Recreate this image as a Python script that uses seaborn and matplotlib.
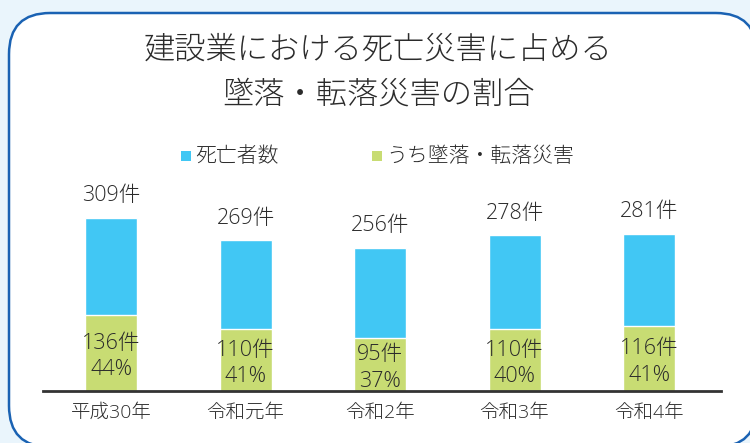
import matplotlib
matplotlib.use("Agg")
import matplotlib.pyplot as plt
from matplotlib.patches import FancyBboxPatch, Rectangle
import seaborn as sns
import pandas as pd

years = ["平成30年", "令和元年", "令和2年", "令和3年", "令和4年"]
deaths = [309, 269, 256, 278, 281]
falls = [136, 110, 95, 110, 116]
shares = [44, 41, 37, 40, 41]

title_lines = ["建設業における死亡災害に占める", "墜落・転落災害の割合"]
legend_labels = ["死亡者数", "うち墜落・転落災害"]

BLUE = "#41C7F4"
GREEN = "#C8DC73"
TXT = "#2b2b2b"

sns.set_theme(style="white")
plt.rcParams["font.family"] = ["Noto Sans CJK JP", "DejaVu Sans"]
plt.rcParams["font.weight"] = "light"
NUMFAM = ["Open Sans", "Noto Sans CJK JP", "DejaVu Sans"]

W, H = 750, 443
fig = plt.figure(figsize=(7.5, 4.43), dpi=100)
fig.patch.set_facecolor("#EAF5FC")

# rounded white panel
box = FancyBboxPatch((9 / W, 1 - 447 / H), (757 - 9) / W, (447 - 13) / H,
                     boxstyle="round,pad=0,rounding_size=0.055",
                     transform=fig.transFigure, facecolor="white",
                     edgecolor="#1A62B3", linewidth=1.8, mutation_aspect=W / H,
                     zorder=-10)
fig.patches.append(box)

df = pd.DataFrame({"year": years, "deaths": deaths, "falls": falls})

ax = fig.add_axes([43 / W, 1 - 391 / H, 678 / W, (391 - 130) / H])
ax.set_facecolor("none")
ax.patch.set_alpha(0)
sns.barplot(data=df, x="year", y="deaths", color=BLUE, width=0.387,
            saturation=1, errorbar=None, ax=ax)
sns.barplot(data=df, x="year", y="falls", color=GREEN, width=0.387,
            saturation=1, errorbar=None, ax=ax)
ax.set_xlim(-0.506, 4.535)
ax.set_ylim(0, 261 / 0.56)
ax.set_xlabel("")
ax.set_ylabel("")
ax.set_yticks([])
for s in ["top", "right", "left"]:
    ax.spines[s].set_visible(False)
ax.spines["bottom"].set_color("#333333")
ax.spines["bottom"].set_linewidth(2)
ax.tick_params(axis="x", length=0, pad=9, labelsize=14, labelcolor=TXT)
for t in ax.get_xticklabels():
    t.set_family(NUMFAM)

NUM = 15.5
for i, (d, f, p) in enumerate(zip(deaths, falls, shares)):
    kw = dict(textcoords="offset points", ha="center", va="center",
              fontsize=NUM, color=TXT, family=NUMFAM)
    ax.annotate(f"{d}件", (i, d), xytext=(0, 16), **kw)
    ax.annotate(f"{f}件", (i, f / 2), xytext=(0, 7), **kw)
    ax.annotate(f"{p}%", (i, f / 2), xytext=(0, -12), **kw)

# title
fig.text(378 / W, 1 - 50 / H, title_lines[0], ha="center", va="center",
         fontsize=22.5, color=TXT)
fig.text(378 / W, 1 - 95 / H, title_lines[1], ha="center", va="center",
         fontsize=22.5, color=TXT)

# legend
for x0, lab, col in [(181, legend_labels[0], BLUE), (372, legend_labels[1], GREEN)]:
    fig.patches.append(Rectangle((x0 / W, 1 - 161 / H), 10 / W, 10 / H,
                                 transform=fig.transFigure, facecolor=col,
                                 edgecolor="none"))
    fig.text((x0 + 14) / W, 1 - 156 / H, lab, ha="left", va="center",
             fontsize=15, color=TXT)

fig.savefig("out.png", dpi=100, facecolor=fig.get_facecolor())
